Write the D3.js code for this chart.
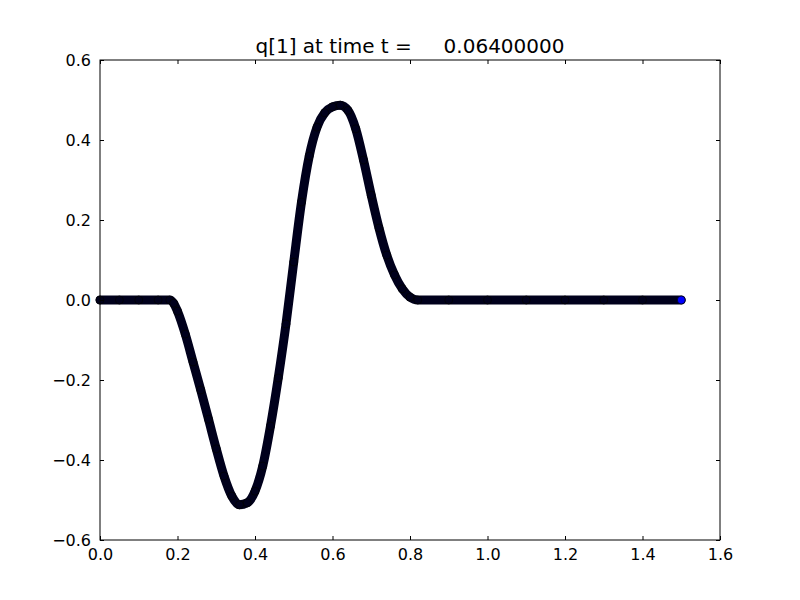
<!DOCTYPE html>
<html lang="en">
	<head>
		<meta charset="utf-8">
		<title>q[1]</title>
		<script type="text/javascript" src="https://cdn.jsdelivr.net/npm/d3@7"></script>
		<style>
			body { margin: 0; background: #fff; }
			text { font-family: "DejaVu Sans", sans-serif; }
		</style>
	</head>
	<body>
		<script type="text/javascript">

			// values
			var xs = [0.00, 0.05, 0.10, 0.15, 0.18, 0.19, 0.20, 0.22, 0.24, 0.26, 0.28, 0.30, 0.32, 0.34,
				0.36, 0.38, 0.40, 0.42, 0.44, 0.46, 0.48, 0.50, 0.52, 0.54, 0.56, 0.58, 0.60, 0.62,
				0.64, 0.66, 0.68, 0.70, 0.72, 0.74, 0.76, 0.78, 0.80, 0.82, 0.90, 1.00, 1.10, 1.20,
				1.30, 1.40, 1.50]
			var qs = [0, 0, 0, 0, 0, -0.008, -0.028, -0.085, -0.155, -0.225, -0.298, -0.372, -0.44, -0.49,
				-0.512, -0.507, -0.478, -0.415, -0.315, -0.195, -0.06, 0.095, 0.245, 0.36, 0.432, 0.468, 0.483, 0.487,
				0.474, 0.428, 0.35, 0.262, 0.18, 0.112, 0.063, 0.028, 0.007, 0, 0, 0, 0, 0,
				0, 0, 0]
			var xTicks = [0.0, 0.2, 0.4, 0.6, 0.8, 1.0, 1.2, 1.4, 1.6]
			var yTicks = [-0.6, -0.4, -0.2, 0.0, 0.2, 0.4, 0.6]
			var title = "q[1] at time t =     0.06400000"

			var points = xs.map(function(x, i) { return {x: x, q: qs[i]} })

			var width = 800, height = 600
			var pLeft = 100, pRight = 720, pTop = 60, pBottom = 540

			var x = d3.scaleLinear().domain([0, 1.6]).range([pLeft, pRight])
			var y = d3.scaleLinear().domain([-0.6, 0.6]).range([pBottom, pTop])
			var fmt = function(d) { return d3.format(".1f")(d).replace("-", "\u2212") }

			var svg = d3.select("body").append("svg")
				.attr("width", width)
				.attr("height", height)

			// the band of overlapping markers
			svg.append("path")
				.datum(points)
				.attr("fill", "none")
				.attr("stroke", "#00001c")
				.attr("stroke-width", 9)
				.attr("stroke-linecap", "round")
				.attr("stroke-linejoin", "round")
				.attr("d", d3.line().x(d => x(d.x)).y(d => y(d.q)).curve(d3.curveMonotoneX))

			svg.append("g")
				.selectAll("circle")
				.data(points)
				.enter().append("circle")
					.attr("cx", d => x(d.x))
					.attr("cy", d => y(d.q))
					.attr("r", 4)
					.attr("fill", (d, i) => i == points.length - 1 ? "#0000ff" : "#00001c")
					.attr("stroke", "#000")
					.attr("stroke-width", 0.7)

			// axes, ticks inside on all four sides
			var xb = svg.append("g").attr("transform", "translate(0," + pBottom + ")")
				.call(d3.axisBottom(x).tickValues(xTicks).tickSizeInner(-4).tickSizeOuter(0).tickPadding(9).tickFormat(fmt))
			var xt = svg.append("g").attr("transform", "translate(0," + pTop + ")")
				.call(d3.axisTop(x).tickValues(xTicks).tickSizeInner(-4).tickSizeOuter(0).tickFormat(""))
			var yl = svg.append("g").attr("transform", "translate(" + pLeft + ",0)")
				.call(d3.axisLeft(y).tickValues(yTicks).tickSizeInner(-4).tickSizeOuter(0).tickPadding(9).tickFormat(fmt))
			var yr = svg.append("g").attr("transform", "translate(" + pRight + ",0)")
				.call(d3.axisRight(y).tickValues(yTicks).tickSizeInner(-4).tickSizeOuter(0).tickFormat(""))

			;[xb, xt, yl, yr].forEach(function(g) {
				g.select(".domain").remove()
				g.selectAll("text")
					.attr("font-size", 16)
					.attr("font-family", "DejaVu Sans, sans-serif")
					.attr("fill", "#000")
				g.selectAll("line").attr("stroke", "#000")
			})

			svg.append("rect")
				.attr("x", pLeft)
				.attr("y", pTop)
				.attr("width", pRight - pLeft)
				.attr("height", pBottom - pTop)
				.attr("fill", "none")
				.attr("stroke", "#000")
				.attr("stroke-width", 1)

			svg.append("text")
				.attr("x", (pLeft + pRight) / 2)
				.attr("y", 53)
				.attr("text-anchor", "middle")
				.attr("font-size", 20)
				.style("white-space", "pre")
				.text(title)

		</script>
	</body>
</html>
